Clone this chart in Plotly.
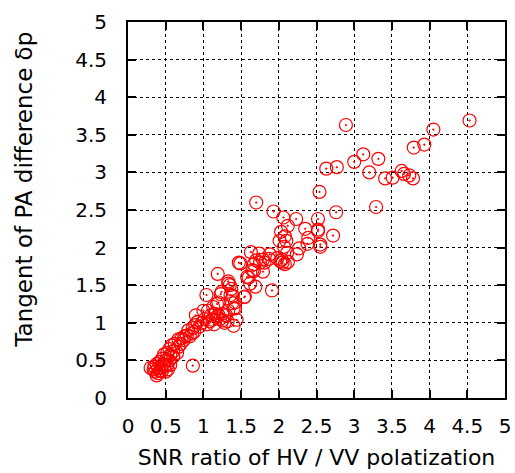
import plotly.graph_objects as go

# SNR ratio (HV / VV) for each measurement
snr_ratio = [
    2.89, 4.53, 4.05, 3.93, 3.79, 3.12, 3.32, 3.00, 2.63, 2.77,
    3.20, 3.63, 3.66, 3.73, 3.78, 3.41, 3.51, 2.54, 1.70, 3.29,
    1.93, 2.76, 2.06, 2.23, 2.52, 2.12, 2.35, 2.03, 2.52, 2.52,
    2.08, 2.39, 2.72, 2.01, 2.10, 2.38, 2.55, 2.55, 2.07, 2.27,
    1.63, 1.74, 1.88, 2.11, 2.24, 1.70, 1.79, 1.87, 1.98, 2.04,
    2.05, 2.08, 2.12, 2.02, 1.47, 1.49, 1.67, 1.75, 1.81, 1.19,
    1.65, 1.67, 1.79, 1.58, 1.60, 1.33, 1.33, 1.62, 1.69, 1.91,
    1.04, 1.24, 1.23, 1.36, 1.39, 1.54, 1.55, 1.18, 1.20, 1.38,
    1.42, 1.40, 1.42, 1.06, 1.13, 1.33, 1.00, 1.44, 1.40, 1.10,
    1.15, 1.20, 1.22, 1.12, 1.08, 1.05, 1.14, 1.25, 1.28, 1.32,
    1.18, 1.02, 0.98, 1.30, 1.25, 0.90, 0.92, 0.89, 0.86, 0.85,
    0.82, 0.78, 0.71, 0.74, 0.67, 0.58, 0.67, 0.62, 0.55, 0.60,
    0.52, 0.48, 0.56, 0.45, 0.50, 0.42, 0.46, 0.38, 0.40, 0.35,
    0.44, 0.48, 0.52, 0.36, 0.40, 0.45, 0.38, 0.53, 0.56, 0.42,
    0.34, 0.30, 0.50, 0.86, 0.70, 0.75, 0.80, 0.88, 0.95, 0.60,
    0.65, 0.55, 1.35, 1.37,
]

# Tangent of the position-angle difference for the same measurements
tan_pa_diff = [
    3.63, 3.69, 3.57, 3.37, 3.33, 3.24, 3.18, 3.14, 3.05, 3.07,
    3.00, 3.02, 2.98, 2.96, 2.92, 2.92, 2.93, 2.74, 2.60, 2.54,
    2.48, 2.47, 2.40, 2.38, 2.38, 2.29, 2.25, 2.21, 2.24, 2.22,
    2.15, 2.13, 2.16, 2.09, 2.09, 2.05, 2.04, 2.01, 2.01, 1.99,
    1.94, 1.92, 1.91, 1.93, 1.91, 1.83, 1.84, 1.85, 1.86, 1.84,
    1.80, 1.78, 1.81, 1.82, 1.80, 1.79, 1.78, 1.80, 1.80, 1.65,
    1.70, 1.69, 1.68, 1.61, 1.60, 1.55, 1.52, 1.52, 1.48, 1.43,
    1.37, 1.41, 1.38, 1.37, 1.36, 1.34, 1.35, 1.25, 1.27, 1.26,
    1.27, 1.19, 1.19, 1.16, 1.21, 1.16, 1.16, 1.04, 0.96, 1.10,
    1.12, 1.10, 1.05, 1.04, 1.02, 0.98, 0.98, 1.03, 1.00, 1.02,
    1.08, 1.05, 1.00, 1.10, 1.12, 1.10, 1.01, 0.97, 0.93, 0.86,
    0.82, 0.83, 0.79, 0.77, 0.78, 0.70, 0.68, 0.72, 0.65, 0.62,
    0.60, 0.58, 0.57, 0.52, 0.50, 0.48, 0.45, 0.45, 0.40, 0.42,
    0.40, 0.42, 0.44, 0.35, 0.33, 0.36, 0.30, 0.38, 0.44, 0.36,
    0.38, 0.40, 0.35, 0.43, 0.72, 0.82, 0.90, 0.88, 0.95, 0.55,
    0.60, 0.50, 1.50, 1.45,
]

tick_vals = [0, 0.5, 1, 1.5, 2, 2.5, 3, 3.5, 4, 4.5, 5]
tick_text = ["0", "0.5", "1", "1.5", "2", "2.5", "3", "3.5", "4", "4.5", "5"]

FONT = "DejaVu Sans, Arial, sans-serif"

fig = go.Figure()
fig.add_trace(go.Scatter(
    x=snr_ratio,
    y=tan_pa_diff,
    mode="markers",
    marker=dict(
        symbol="circle-open-dot",
        size=13,
        color="#ff0000",
        line=dict(color="#ff0000", width=1.2),
    ),
    showlegend=False,
))

axis_common = dict(
    range=[0, 5],
    tickvals=tick_vals,
    ticktext=tick_text,
    ticks="inside",
    ticklen=8,
    tickwidth=1.5,
    tickcolor="black",
    showline=True,
    linecolor="black",
    linewidth=2,
    mirror="ticks",
    showgrid=True,
    gridcolor="black",
    gridwidth=1,
    griddash="dot",
    zeroline=False,
    tickfont=dict(family=FONT, size=20, color="black"),
)

fig.update_xaxes(
    **axis_common,
    ticklabelstandoff=9,
    title=dict(text="SNR ratio of HV / VV polatization",
               font=dict(family=FONT, size=22, color="black"),
               standoff=13),
)
fig.update_yaxes(
    **axis_common,
    ticklabelstandoff=15,
)

# Vertical y-axis title, placed to the left of the tick labels
fig.add_annotation(
    text="Tangent of PA difference δp",
    textangle=-90,
    xref="paper", yref="paper",
    x=-0.275, y=0.555,
    xanchor="center", yanchor="middle",
    showarrow=False,
    font=dict(family=FONT, size=23, color="black"),
)

fig.update_layout(
    width=515,
    height=473,
    margin=dict(l=128, r=10, t=22, b=75, autoexpand=False),
    plot_bgcolor="white",
    paper_bgcolor="white",
)

fig.write_html("out.html")
